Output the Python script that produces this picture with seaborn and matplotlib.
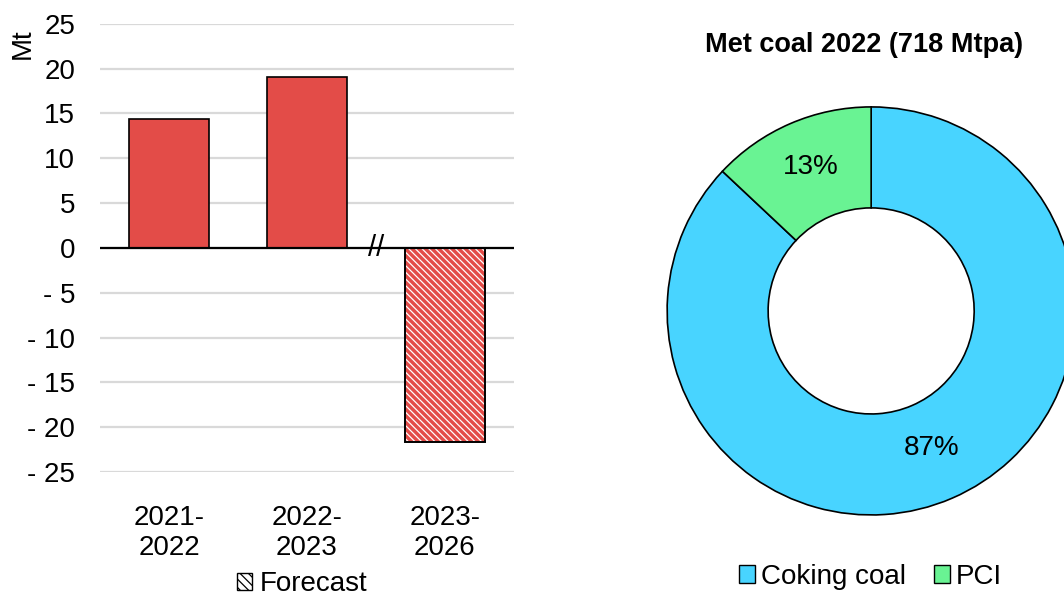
import matplotlib
matplotlib.use("Agg")
import matplotlib.pyplot as plt
import matplotlib.patches as mpatches
import seaborn as sns
import pandas as pd
import numpy as np

# bar chart data (Mt change)
periods = ["2021-\n2022", "2022-\n2023", "2023-\n2026"]
changes = [14.4, 19.1, -21.7]
is_forecast = [False, False, True]

# donut data
shares_labels = ["Coking coal", "PCI"]
shares = [87, 13]
donut_title = "Met coal 2022 (718 Mtpa)"

RED = "#E34C48"
BLUE = "#48D4FF"
GREEN = "#69F393"

sns.set_theme(style="white")
plt.rcParams["font.family"] = ["Liberation Sans", "DejaVu Sans"]
plt.rcParams["hatch.linewidth"] = 0.9
plt.rcParams["text.color"] = "black"
plt.rcParams["xtick.color"] = "black"
plt.rcParams["ytick.color"] = "black"
plt.rcParams["axes.labelcolor"] = "black"

fig = plt.figure(figsize=(10.64, 5.96), dpi=100)

# ---- left: bar chart ----
ax = fig.add_axes([0.094, 0.208, 0.389, 0.752])
df = pd.DataFrame({"period": periods, "change": changes})
sns.barplot(data=df, x="period", y="change", color=RED, width=0.58,
            edgecolor="black", linewidth=1.2, saturation=1, ax=ax, zorder=3)

for bar, fc in zip(ax.patches, is_forecast):
    if fc:
        bar.set_hatch("\\\\\\\\\\")
        bar.set_edgecolor("white")
        bar.set_linewidth(0)
        outline = mpatches.Rectangle(bar.get_xy(), bar.get_width(), bar.get_height(),
                                     fill=False, edgecolor="black", linewidth=1.4, zorder=4)
        ax.add_patch(outline)

ax.set_ylim(-25, 25)
ax.set_xlim(-0.5, 2.5)
yt = list(range(-25, 30, 5))
ax.set_yticks(yt)
ax.set_yticklabels([f"- {abs(v)}" if v < 0 else str(v) for v in yt])
ax.yaxis.grid(True, color="#d9d9d9", linewidth=1.6, zorder=0)
ax.axhline(0, color="black", linewidth=1.6, zorder=5)
for s in ax.spines.values():
    s.set_visible(False)
ax.tick_params(axis="both", labelsize=20, length=0)
ax.tick_params(axis="x", pad=24)
ax.tick_params(axis="y", pad=18)
ax.set_xlabel("")
ax.set_ylabel("Mt", fontsize=20)
ax.yaxis.set_label_coords(-0.155, 0.955)

# axis break mark between actuals and forecast
ax.text(1.5, 0, "//", fontsize=21, ha="center", va="center", zorder=6)

fig.legend(handles=[mpatches.Patch(facecolor="white", edgecolor="black", hatch="\\\\\\\\", label="Forecast")],
           loc="center", bbox_to_anchor=(0.284, 0.02), frameon=False, fontsize=20,
           handlelength=0.55, handleheight=0.55, handletextpad=0.3, borderaxespad=0)

# ---- right: donut ----
ax2 = fig.add_axes([0.627, 0.136, 0.3835, 0.6846])
wedges, texts = ax2.pie(shares, colors=[BLUE, GREEN], startangle=90, counterclock=False,
                        radius=1.0, wedgeprops=dict(width=0.495, edgecolor="black", linewidth=1.2))
ax2.set_xlim(-1, 1)
ax2.set_ylim(-1, 1)
ax2.set_aspect("equal")
ax2.axis("off")

# percent labels placed on the ring
for w, v in zip(wedges, shares):
    mid = np.deg2rad((w.theta1 + w.theta2) / 2)
    r = 0.75
    ax2.text(r * np.cos(mid), r * np.sin(mid) + 0.015, f"{v}%", ha="center", va="center", fontsize=20)

fig.text(0.812, 0.924, donut_title, ha="center", va="center", fontsize=19.5, fontweight="bold")

fig.legend(handles=[mpatches.Patch(facecolor=c, edgecolor="black", label=l)
                    for c, l in zip([BLUE, GREEN], shares_labels)],
           loc="center", bbox_to_anchor=(0.818, 0.032), ncol=2, frameon=False, fontsize=20,
           handlelength=0.6, handleheight=0.6, handletextpad=0.2, columnspacing=1.0, borderaxespad=0)

fig.savefig("out.png", dpi=100)
